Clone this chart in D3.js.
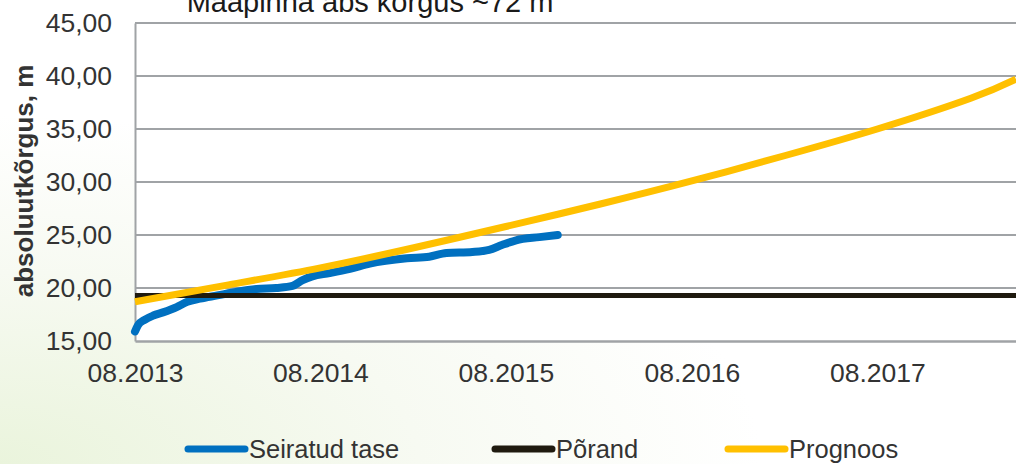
<!DOCTYPE html>
<html>
<head>
<meta charset="utf-8">
<script src="https://cdn.jsdelivr.net/npm/d3@7"></script>
<style>
  html, body { margin: 0; padding: 0; }
  body { width: 1016px; height: 464px; overflow: hidden; font-family: "Liberation Sans", Arial, sans-serif; }
</style>
</head>
<body>
<div id="chart"></div>
<script>
// observed water level (Seiratud tase)
const seiratudDates = ["2013-08-01", "2013-08-07", "2013-08-20", "2013-09-06", "2013-09-25", "2013-10-22",
    "2013-11-12", "2013-12-07", "2014-01-10", "2014-02-18", "2014-03-28", "2014-05-06", "2014-06-07",
    "2014-06-27", "2014-07-16", "2014-08-19", "2014-09-28", "2014-11-06", "2015-01-18", "2015-03-03",
    "2015-04-06", "2015-05-27", "2015-06-29", "2015-07-24", "2015-08-21", "2015-10-06", "2015-11-11"];
const seiratudValues = [15.9, 16.5, 17.0, 17.4, 17.7, 18.2,
    18.7, 19.0, 19.3, 19.65, 19.9, 20.0, 20.2,
    20.75, 21.1, 21.4, 21.8, 22.3, 22.8, 22.95,
    23.3, 23.4, 23.6, 24.05, 24.5, 24.8, 25.0];

// floor level (Põrand)
const porandDates = ["2013-08-01", "2018-05-01"];
const porandValues = [19.3, 19.3];

// forecast (Prognoos)
const prognoosDates = ["2013-08-01", "2014-02-01", "2014-08-01", "2015-02-01", "2015-08-01", "2016-02-01",
    "2016-08-01", "2017-02-01", "2017-08-01", "2018-02-01", "2018-05-01"];
const prognoosValues = [18.7, 20.3, 21.9, 23.8, 25.8, 27.9, 30.1, 32.5, 35.0, 37.9, 39.7];

const yTicks = [15, 20, 25, 30, 35, 40, 45];
const xTickDates = ["2013-08-01", "2014-08-01", "2015-08-01", "2016-08-01", "2017-08-01"];
const seriesNames = ["Seiratud tase", "Põrand", "Prognoos"];
const seriesColors = ["#0070c0", "#1f1a0f", "#ffc000"];

const parse = d3.timeParse("%Y-%m-%d");
const W = 1016, H = 464;
const fontFamily = "'Liberation Sans', Arial, sans-serif";

const svg = d3.select("#chart").append("svg")
    .attr("width", W)
    .attr("height", H);

// slide background with a faint green glow at bottom left
const defs = svg.append("defs");
const grad = defs.append("radialGradient")
    .attr("id", "bg")
    .attr("cx", "0%").attr("cy", "100%").attr("r", "75%");
grad.append("stop").attr("offset", "0%").attr("stop-color", "#eaf4dc");
grad.append("stop").attr("offset", "55%").attr("stop-color", "#f7faf2");
grad.append("stop").attr("offset", "100%").attr("stop-color", "#ffffff");
svg.append("rect").attr("width", W).attr("height", H).attr("fill", "url(#bg)");

const x = d3.scaleTime()
    .domain([parse("2013-08-01"), parse("2018-05-01")])
    .range([135, 1016]);
const y = d3.scaleLinear()
    .domain([15, 45])
    .range([341, 23]);

// plot area
svg.append("rect")
    .attr("x", x.range()[0]).attr("y", y(45))
    .attr("width", x.range()[1] - x.range()[0])
    .attr("height", y(15) - y(45))
    .attr("fill", "#ffffff");

// gridlines
svg.append("g")
    .selectAll("line")
    .data(yTicks.filter(d => d > 15))
    .join("line")
    .attr("x1", x.range()[0]).attr("x2", x.range()[1])
    .attr("y1", d => y(d)).attr("y2", d => y(d))
    .attr("stroke", "#a0a3a6")
    .attr("stroke-width", 2);

// y axis
const fmt = d => d3.format(".2f")(d).replace(".", ",");
const yAxis = svg.append("g")
    .attr("transform", "translate(135,0)")
    .call(d3.axisLeft(y).tickValues(yTicks).tickFormat(fmt).tickSize(0).tickPadding(23));
yAxis.select(".domain").attr("stroke", "#a0a3a6").attr("stroke-width", 2);
yAxis.selectAll("text")
    .attr("fill", "#333333")
    .style("font-size", "26.5px")
    .style("font-family", fontFamily);

// x axis
const xAxis = svg.append("g")
    .attr("transform", "translate(0," + y(15) + ")")
    .call(d3.axisBottom(x).tickValues(xTickDates.map(parse)).tickFormat(d3.timeFormat("%m.%Y")).tickSize(0).tickPadding(22));
xAxis.select(".domain").attr("stroke", "#a0a3a6").attr("stroke-width", 2.5);
xAxis.selectAll("text")
    .attr("fill", "#333333")
    .style("font-size", "26.5px")
    .style("font-family", fontFamily);

// axis title
svg.append("text")
    .attr("transform", "translate(33,181) rotate(-90)")
    .attr("text-anchor", "middle")
    .attr("fill", "#333333")
    .style("font-size", "26px")
    .style("font-weight", "bold")
    .text("absoluutkõrgus, m");

// chart title (cut off at the top, as in the source slide)
svg.append("text")
    .attr("x", 370)
    .attr("y", 12)
    .attr("text-anchor", "middle")
    .attr("fill", "#1a1a1a")
    .style("font-size", "29px")
    .text("Maapinna abs kõrgus ~72 m");

// lines
const series = [
    { name: seriesNames[0], color: seriesColors[0], width: 8, curve: d3.curveMonotoneX,
      data: seiratudDates.map((d, i) => ({ date: parse(d), value: seiratudValues[i] })) },
    { name: seriesNames[1], color: seriesColors[1], width: 5, curve: d3.curveLinear,
      data: porandDates.map((d, i) => ({ date: parse(d), value: porandValues[i] })) },
    { name: seriesNames[2], color: seriesColors[2], width: 7, curve: d3.curveNatural,
      data: prognoosDates.map((d, i) => ({ date: parse(d), value: prognoosValues[i] })) }
];

svg.append("g")
    .selectAll("path")
    .data(series)
    .join("path")
    .attr("fill", "none")
    .attr("stroke", d => d.color)
    .attr("stroke-width", d => d.width)
    .attr("stroke-linecap", d => d.name === "Seiratud tase" ? "round" : "butt")
    .attr("stroke-linejoin", "round")
    .attr("d", d => d3.line().x(p => x(p.date)).y(p => y(p.value)).curve(d.curve)(d.data));

// legend
const legendX = [188, 495, 728];
const legend = svg.append("g")
    .selectAll("g")
    .data(series)
    .join("g")
    .attr("transform", (d, i) => "translate(" + legendX[i] + ",449)");
legend.append("line")
    .attr("x1", 0).attr("x2", 57)
    .attr("stroke", d => d.color)
    .attr("stroke-width", 7)
    .attr("stroke-linecap", "round");
legend.append("text")
    .attr("x", 61)
    .attr("dy", "0.35em")
    .attr("fill", "#333333")
    .style("font-size", "25.5px")
    .style("font-family", fontFamily)
    .text(d => d.name);
</script>
</body>
</html>
